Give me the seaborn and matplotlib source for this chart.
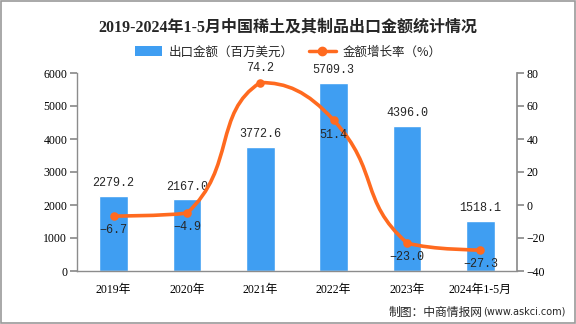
import matplotlib
matplotlib.use("Agg")
import matplotlib.pyplot as plt
import seaborn as sns
import numpy as np
import pandas as pd
from matplotlib.path import Path
from matplotlib.patches import PathPatch, Patch, Rectangle
from matplotlib.lines import Line2D

years = ["2019年", "2020年", "2021年", "2022年", "2023年", "2024年1-5月"]
export_value = [2279.2, 2167.0, 3772.6, 5709.3, 4396.0, 1518.1]
growth_rate = [-6.7, -4.9, 74.2, 51.4, -23.0, -27.3]
left_ticks = [0, 1000, 2000, 3000, 4000, 5000, 6000]
right_ticks = [-40, -20, 0, 20, 40, 60, 80]

sns.set_theme(style="white")
FONTS = ["Liberation Serif", "Noto Sans CJK SC", "DejaVu Sans"]
plt.rcParams["font.family"] = FONTS
plt.rcParams["axes.unicode_minus"] = False

BAR = "#3F9EF2"
LINE = "#FF6A1F"
GRAY = "#8C8C8C"

fig = plt.figure(figsize=(5.76, 3.24), dpi=100)
ax = fig.add_axes([77/576, 1-271/324, (517-77)/576, (271-73)/324])

df = pd.DataFrame({"year": years, "value": export_value, "rate": growth_rate})
sns.barplot(data=df, x="year", y="value", order=years, color=BAR, width=0.39,
            saturation=1, ax=ax)
ax.set_xlim(-0.5, len(years) - 0.5)
ax.set_ylim(0, 6000)
ax.set_yticks(left_ticks)
ax.set_yticklabels([str(t) for t in left_ticks], fontsize=8.5, color="black")
ax.set_xlabel("")
ax.set_ylabel("")
ax.set_xticks(range(len(years)))
ax.set_xticklabels(years, fontsize=8.5, color="black")
ax.set_xticks(np.arange(-0.5, len(years), 1.0), minor=True)
ax.tick_params(axis="x", which="major", length=0, pad=9)
ax.tick_params(axis="x", which="minor", length=5, color=GRAY, direction="out")
ax.tick_params(axis="y", length=5, color=GRAY, direction="out", left=True, pad=2)
for s in ["top", "right"]:
    ax.spines[s].set_visible(False)
for s in ["left", "bottom"]:
    ax.spines[s].set_color(GRAY)
    ax.spines[s].set_linewidth(1)
ax.grid(False)

for i, v in enumerate(export_value):
    ax.annotate(f"{v:.1f}", (i, v), xytext=(0, 5), textcoords="offset points",
                ha="center", va="bottom", fontsize=8.5, family=["Liberation Mono"])

ax2 = ax.twinx()
ax2.set_ylim(-40, 80)
ax2.set_yticks(right_ticks)
ax2.set_yticklabels([f"−{abs(t)}" if t < 0 else str(t) for t in right_ticks],
                    fontsize=8.5, color="black")
ax2.tick_params(axis="y", length=5, color=GRAY, direction="out", right=True, pad=2)
for s in ["top", "left", "bottom"]:
    ax2.spines[s].set_visible(False)
ax2.spines["right"].set_color(GRAY)
ax2.grid(False)

# smooth line: cubic Bezier with distance-weighted tangents and clamped control points
xs = np.arange(len(growth_rate), dtype=float)
ys = np.array(growth_rate, dtype=float)
T = ax2.transData
P = T.transform(np.column_stack([xs, ys]))
n = len(P)
smooth = 0.5
cp_before = [None] * n
cp_after = [None] * n
for i in range(n):
    if i == 0 or i == n - 1:
        cp_before[i] = P[i].copy()
        cp_after[i] = P[i].copy()
        continue
    prev, cur, nxt = P[i - 1], P[i], P[i + 1]
    v = (nxt - prev) * smooth
    d0 = np.hypot(*(cur - prev))
    d1 = np.hypot(*(cur - nxt))
    s = d0 + d1
    a = cur - v * (d0 / s)
    b = cur + v * (d1 / s)
    a[1] = np.clip(a[1], min(prev[1], cur[1]), max(prev[1], cur[1]))
    b[1] = np.clip(b[1], min(nxt[1], cur[1]), max(nxt[1], cur[1]))
    cp_before[i] = a
    cp_after[i] = b
inv = T.inverted()
verts = [tuple(inv.transform(P[0]))]
codes = [Path.MOVETO]
for i in range(n - 1):
    for q in (cp_after[i], cp_before[i + 1], P[i + 1]):
        verts.append(tuple(inv.transform(q)))
        codes.append(Path.CURVE4)
ax2.add_patch(PathPatch(Path(verts, codes), facecolor="none", edgecolor=LINE,
                        lw=2.6, capstyle="round", zorder=4))
sns.scatterplot(x=xs, y=ys, ax=ax2, color=LINE, s=38, edgecolor=LINE,
                linewidth=0, zorder=5, legend=False)

for i, r in enumerate(growth_rate):
    if r == max(growth_rate):
        off, va = 6, "bottom"
    else:
        off, va = -6, "top"
    ax2.annotate(f"{r:.1f}".replace("-", "−"), (i, r), xytext=(0, off),
                 textcoords="offset points", ha="center", va=va, fontsize=8.5,
                 family=["Liberation Mono", "DejaVu Sans Mono"], zorder=6)

fig.text(0.5, 1 - 28/324, "2019-2024年1-5月中国稀土及其制品出口金额统计情况",
         ha="center", va="center", fontsize=11.5, fontweight="bold",
         family=["Liberation Serif", "Noto Sans CJK SC"])

handles = [Patch(facecolor=BAR, edgecolor="none"),
           Line2D([0], [0], color=LINE, lw=2.5, marker="o", markersize=6)]
fig.legend(handles, ["出口金额（百万美元）", "金额增长率（%）"], loc="center",
           bbox_to_anchor=(0.5, 1 - 52/324), ncol=2, frameon=False,
           handlelength=2.2, handleheight=0.9, columnspacing=1.2,
           handletextpad=0.5, prop={"family": ["Noto Sans CJK SC"], "size": 9})

t2 = fig.text(566/576, 1 - 312/324, "(www.askci.com)", ha="right", va="center",
              fontsize=7, family=["DejaVu Sans"])
fig.text(0, 0, "")
ax.annotate("制图：中商情报网", xy=(0, 0.5), xycoords=t2, xytext=(-1, 0),
            textcoords="offset points", ha="right", va="center",
            fontsize=8.5, family=["Noto Sans CJK SC"], annotation_clip=False)

fig.patches.append(Rectangle((0.001, 0.002), 0.997, 0.995, transform=fig.transFigure,
                             fill=False, edgecolor="#9A9A9A", lw=1.2))

fig.savefig("out.png", dpi=100, facecolor="white")
